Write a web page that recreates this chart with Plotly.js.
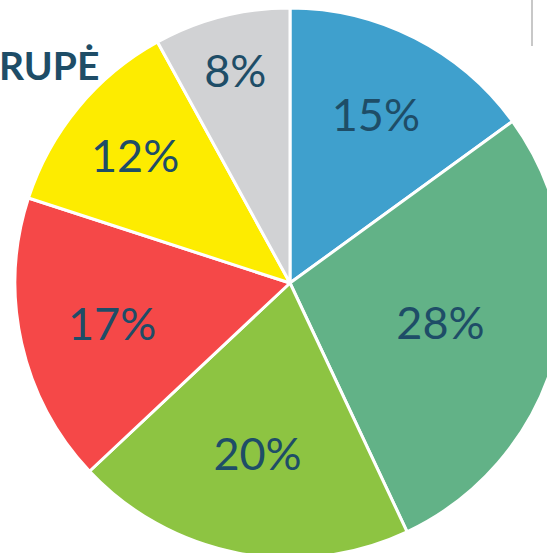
<!DOCTYPE html>
<html>
<head>
<meta charset="utf-8">
<script src="https://cdn.plot.ly/plotly-3.0.1.min.js"></script>
<style>
html,body{margin:0;padding:0;overflow:hidden;width:547px;height:553px;background:#fff;}
#chart{width:565px;height:558px;}
</style>
</head>
<body>
<div id="chart"></div>
<script>
const labels = ["A", "B", "C", "D", "E", "F"];
const values = [15, 28, 20, 17, 12, 8];
const colors = ["#3FA0CD", "#62B287", "#8DC442", "#F54848", "#FDEC00", "#D1D2D4"];
const titleText = "RUPĖ";

const trace = {
  type: "pie",
  labels: labels,
  values: values,
  sort: false,
  direction: "clockwise",
  rotation: 0,
  marker: {colors: colors, line: {color: "#ffffff", width: 3}},
  textinfo: "percent",
  texttemplate: "%{percent:.0%}",
  textposition: "inside",
  insidetextorientation: "horizontal",
  textfont: {family: "Lato, sans-serif", size: 45, color: "#1E4D67"},
  hoverinfo: "none",
  showlegend: false
};

const layout = {
  width: 565, height: 558,
  margin: {l: 15, r: 0, t: 8, b: 0},
  paper_bgcolor: "#ffffff",
  showlegend: false,
  annotations: [{
    text: "<b>" + titleText + "</b>",
    xref: "paper", yref: "paper",
    x: -0.0309, y: 0.896, xanchor: "left", yanchor: "middle",
    showarrow: false, borderpad: 0,
    font: {family: "Lato, sans-serif", size: 39, color: "#1E4D67"}
  }],
  shapes: [{
    type: "line", xref: "paper", yref: "paper",
    x0: 0.94, x1: 0.94, y0: 1.02, y1: 0.931,
    line: {color: "#C8C8C8", width: 2}
  }]
};

Plotly.newPlot("chart", [trace], layout, {displayModeBar: false, staticPlot: true});
</script>
</body>
</html>
